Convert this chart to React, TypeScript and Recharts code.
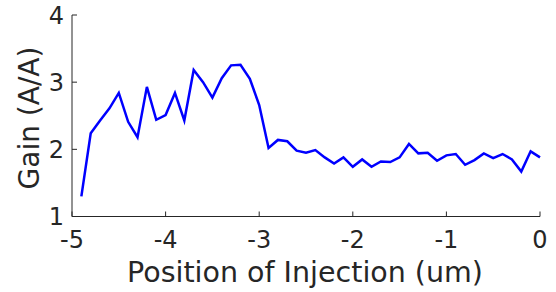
import { LineChart, Line, XAxis, YAxis } from "recharts";

const positions = [
  -4.9, -4.8, -4.7, -4.6, -4.5, -4.4, -4.3, -4.2, -4.1, -4.0,
  -3.9, -3.8, -3.7, -3.6, -3.5, -3.4, -3.3, -3.2, -3.1, -3.0,
  -2.9, -2.8, -2.7, -2.6, -2.5, -2.4, -2.3, -2.2, -2.1, -2.0,
  -1.9, -1.8, -1.7, -1.6, -1.5, -1.4, -1.3, -1.2, -1.1, -1.0,
  -0.9, -0.8, -0.7, -0.6, -0.5, -0.4, -0.3, -0.2, -0.1, 0.0,
];
const gain = [
  1.3, 2.24, 2.43, 2.61, 2.84, 2.41, 2.18, 2.93, 2.44, 2.51,
  2.84, 2.43, 3.18, 3.0, 2.77, 3.06, 3.25, 3.26, 3.05, 2.66,
  2.02, 2.14, 2.12, 1.98, 1.95, 1.99, 1.88, 1.79, 1.88, 1.74,
  1.85, 1.74, 1.82, 1.81, 1.88, 2.08, 1.94, 1.95, 1.83, 1.91,
  1.93, 1.77, 1.84, 1.94, 1.87, 1.93, 1.85, 1.67, 1.97, 1.88,
];
const xTicks = [-5, -4, -3, -2, -1, 0];
const yTicks = [1, 2, 3, 4];

const data = positions.map((x, i) => ({ x, gain: gain[i] }));

const INK = "#262626";
const FONT = "'DejaVu Sans', sans-serif";

function BottomTick({ x, y, payload }: any) {
  return (
    <g>
      <line x1={x} x2={x} y1={y} y2={y - 5} stroke={INK} />
      <text x={x} y={y + 31} textAnchor="middle" fill={INK} fontSize={24} fontFamily={FONT}>
        {payload.value}
      </text>
    </g>
  );
}
function TopTick({ x, y }: any) {
  return <line x1={x} x2={x} y1={y} y2={y + 5} stroke={INK} />;
}
function LeftTick({ x, y, payload }: any) {
  return (
    <g>
      <line x1={x} x2={x + 5} y1={y} y2={y} stroke={INK} />
      <text x={x - 8} y={y + 8.5} textAnchor="end" fill={INK} fontSize={24} fontFamily={FONT}>
        {payload.value}
      </text>
    </g>
  );
}
function RightTick({ x, y }: any) {
  return <line x1={x} x2={x - 5} y1={y} y2={y} stroke={INK} />;
}

export default function App() {
  return (
    <div style={{ position: "absolute", left: 0, top: 0, background: "#fff" }}>
      <LineChart
        width={556}
        height={292}
        data={data}
        margin={{ top: 15, right: 16, left: 0, bottom: 0 }}
      >
        <XAxis
          dataKey="x"
          type="number"
          domain={[-5, 0]}
          ticks={xTicks}
          height={75.5}
          tickSize={0}
          tickMargin={0}
          tickLine={false}
          axisLine={{ stroke: INK }}
          tick={<BottomTick />}
          interval={0}
        />
        <XAxis
          xAxisId="top"
          orientation="top"
          dataKey="x"
          type="number"
          domain={[-5, 0]}
          ticks={xTicks}
          height={0}
          tickSize={0}
          tickMargin={0}
          tickLine={false}
          axisLine={{ stroke: INK }}
          tick={<TopTick />}
          interval={0}
        />
        <YAxis
          domain={[1, 4]}
          ticks={yTicks}
          width={72}
          tickSize={0}
          tickMargin={0}
          tickLine={false}
          axisLine={{ stroke: INK }}
          tick={<LeftTick />}
          interval={0}
        />
        <YAxis
          yAxisId="right"
          orientation="right"
          domain={[1, 4]}
          ticks={yTicks}
          width={0}
          tickSize={0}
          tickMargin={0}
          tickLine={false}
          axisLine={{ stroke: INK }}
          tick={<RightTick />}
          interval={0}
        />
        <Line
          dataKey="gain"
          stroke="#0000ff"
          strokeWidth={2.5}
          dot={false}
          type="linear"
          isAnimationActive={false}
        />
        <text x={305} y={282} textAnchor="middle" fill={INK} fontSize={28.5} fontFamily={FONT}>
          Position of Injection (um)
        </text>
        <text
          x={0}
          y={0}
          transform="translate(39 118) rotate(-90)"
          textAnchor="middle"
          fill={INK}
          fontSize={28}
          fontFamily={FONT}
        >
          Gain (A/A)
        </text>
      </LineChart>
    </div>
  );
}
